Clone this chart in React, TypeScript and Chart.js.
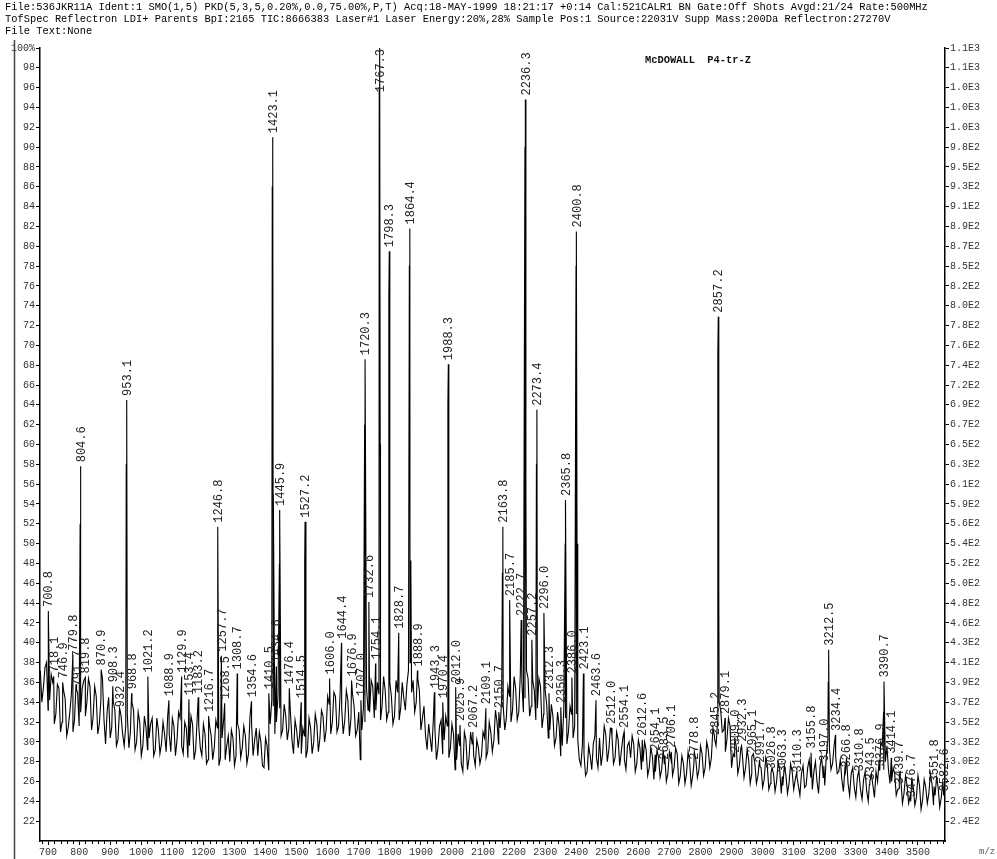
import React, { useEffect, useRef } from "react";
import { Chart, registerables } from "chart.js";

Chart.register(...registerables);

// ---------- text ----------
const headerLines = [
  "File:536JKR11A Ident:1 SMO(1,5) PKD(5,3,5,0.20%,0.0,75.00%,P,T) Acq:18-MAY-1999 18:21:17 +0:14 Cal:521CALR1 BN Gate:Off Shots Avgd:21/24 Rate:500MHz",
  "TofSpec Reflectron LDI+ Parents BpI:2165 TIC:8666383 Laser#1 Laser Energy:20%,28% Sample Pos:1 Source:22031V Supp Mass:200Da Reflectron:27270V",
  "File Text:None",
];
const sampleTitle = "McDOWALL  P4-tr-Z";
const xAxisTitle = "m/z";

// ---------- axes ----------
const xTickLabels = [
  700, 800, 900, 1000, 1100, 1200, 1300, 1400, 1500, 1600, 1700, 1800, 1900, 2000, 2100,
  2200, 2300, 2400, 2500, 2600, 2700, 2800, 2900, 3000, 3100, 3200, 3300, 3400, 3500,
];
const yTickValues = [
  100, 98, 96, 94, 92, 90, 88, 86, 84, 82, 80, 78, 76, 74, 72, 70, 68, 66, 64, 62,
  60, 58, 56, 54, 52, 50, 48, 46, 44, 42, 40, 38, 36, 34, 32, 30, 28, 26, 24, 22,
];
const rightTickLabels = [
  "1.1E3", "1.1E3", "1.0E3", "1.0E3", "1.0E3", "9.8E2", "9.5E2", "9.3E2", "9.1E2", "8.9E2",
  "8.7E2", "8.5E2", "8.2E2", "8.0E2", "7.8E2", "7.6E2", "7.4E2", "7.2E2", "6.9E2", "6.7E2",
  "6.5E2", "6.3E2", "6.1E2", "5.9E2", "5.6E2", "5.4E2", "5.2E2", "5.0E2", "4.8E2", "4.6E2",
  "4.3E2", "4.1E2", "3.9E2", "3.7E2", "3.5E2", "3.3E2", "3.0E2", "2.8E2", "2.6E2", "2.4E2",
];

// ---------- spectrum baseline (% intensity, read every 10 m/z from 675) ----------
const baselineStartMz = 675;
const baselineStepMz = 10;
const baseline = [
  37.2, 35.5, 38.0, 34.2, 36.0, 32.8, 35.4, 32.0, 34.3, 31.5,
  34.8, 32.2, 35.0, 33.0, 36.2, 34.0, 35.6, 32.5, 34.6, 31.8,
  36.4, 29.8, 34.5, 31.5, 33.2, 30.2, 32.6, 29.6, 32.8, 31.0,
  33.2, 30.0, 32.0, 29.6, 31.5, 30.4, 32.4, 29.2, 31.2, 29.8,
  30.8, 32.6, 29.0, 31.6, 30.2, 32.4, 28.8, 31.4, 29.6, 31.8,
  29.2, 31.6, 28.6, 30.8, 28.2, 30.6, 29.4, 31.4, 28.4, 32.2,
  29.6, 28.0, 30.4, 28.6, 31.2, 29.4, 30.6, 28.8, 31.8, 30.2,
  28.6, 30.0, 27.4, 29.6, 31.8, 33.6, 32.0, 33.4, 31.2, 32.6,
  31.4, 30.2, 32.2, 29.4, 28.8, 30.6, 29.2, 31.4, 30.0, 31.8,
  30.4, 32.6, 31.2, 33.8, 32.0, 34.6, 31.6, 33.4, 32.2, 34.2,
  32.4, 33.6, 31.2, 28.2, 33.4, 35.4, 33.0, 35.6, 33.2, 34.8,
  33.6, 35.2, 33.0, 34.6, 32.6, 35.0, 33.4, 34.4, 35.8, 38.0,
  36.2, 34.0, 35.2, 32.4, 30.6, 31.8, 29.0, 31.4, 29.4, 32.2,
  30.2, 31.6, 29.4, 30.8, 28.2, 29.6, 27.0, 30.2, 28.4, 29.8,
  27.6, 29.4, 28.6, 30.4, 29.0, 31.0, 30.2, 32.0, 31.4, 33.6,
  32.4, 34.6, 33.2, 35.4, 33.0, 36.0, 34.4, 36.4, 33.6, 35.2,
  33.4, 35.6, 32.8, 33.8, 31.2, 32.6, 30.4, 31.6, 29.6, 32.4,
  31.0, 32.8, 31.6, 30.2, 27.6, 28.8, 27.0, 28.6, 29.8, 28.4,
  30.4, 28.8, 30.8, 29.2, 30.6, 28.4, 30.2, 29.0, 28.2, 29.6,
  28.4, 29.8, 27.8, 29.4, 28.0, 29.2, 27.4, 28.6, 27.0, 28.4,
  27.2, 28.6, 26.8, 28.2, 27.4, 28.8, 26.6, 27.8, 26.8, 28.0,
  26.6, 28.2, 27.2, 28.8, 27.4, 29.2, 28.4, 30.6, 32.0, 33.2,
  31.2, 30.2, 31.6, 28.8, 29.6, 27.6, 28.6, 27.4, 28.2, 26.8,
  27.8, 26.6, 27.4, 26.2, 27.6, 25.8, 26.8, 26.0, 27.2, 25.6,
  26.6, 25.8, 27.0, 26.2, 25.6, 26.8, 25.4, 27.4, 26.4, 27.0,
  26.0, 27.6, 26.4, 28.6, 29.4, 27.8, 28.6, 27.0, 26.2, 27.4,
  25.8, 26.8, 25.4, 26.4, 25.2, 26.2, 25.0, 26.0, 25.6, 27.0,
  28.2, 29.6, 28.0, 27.2, 26.0, 26.8, 25.2, 26.2, 24.8, 25.6,
  24.6, 25.4, 24.4, 25.6, 24.2, 25.4, 24.8, 25.8, 24.6, 25.4,
  24.4, 25.2,
];

// ---------- in-between baseline readings (every 10 m/z from 680) ----------
const baselineMidStartMz = 680;
const baselineMid = [
  34.0, 37.5, 33.2, 36.8, 31.8, 35.8, 31.0, 35.2, 30.6, 33.0,
  31.0, 35.8, 31.6, 35.4, 32.6, 36.4, 31.2, 35.6, 30.8, 34.2,
  32.2, 33.0, 30.4, 34.0, 29.6, 33.4, 30.8, 31.6, 29.4, 34.0,
  29.2, 33.0, 28.6, 32.6, 29.2, 31.8, 28.6, 32.4, 28.8, 32.0,
  29.0, 30.8, 32.4, 28.6, 33.0, 29.6, 32.0, 28.4, 32.6, 28.2,
  32.4, 29.4, 31.8, 27.8, 31.6, 28.2, 32.2, 27.6, 30.4, 28.2,
  30.6, 31.2, 27.6, 31.8, 28.4, 31.6, 27.8, 32.6, 28.6, 31.4,
  31.0, 27.6, 30.4, 27.2, 34.2, 30.8, 34.6, 30.6, 33.8, 30.2,
  33.0, 28.8, 31.2, 30.8, 31.4, 28.4, 32.4, 28.8, 32.8, 29.0,
  33.2, 30.0, 34.6, 30.8, 35.0, 31.0, 34.8, 30.8, 35.2, 30.6,
  34.8, 30.6, 33.0, 31.2, 32.0, 33.2, 36.2, 32.4, 36.0, 32.2,
  36.6, 32.2, 36.0, 31.8, 36.2, 32.2, 36.0, 33.2, 37.2, 35.0,
  33.0, 36.4, 31.2, 33.6, 29.2, 30.4, 32.2, 28.2, 31.6, 28.8,
  32.6, 28.4, 31.8, 27.2, 30.8, 27.8, 31.0, 27.2, 31.0, 28.6,
  30.2, 27.8, 31.0, 28.4, 32.0, 29.0, 33.2, 29.8, 34.4, 31.2,
  35.6, 32.0, 36.6, 32.2, 36.8, 33.0, 37.2, 32.6, 36.2, 32.2,
  36.4, 31.4, 35.2, 30.4, 33.8, 29.6, 33.0, 28.6, 33.4, 29.8,
  33.6, 30.4, 32.8, 28.2, 29.8, 26.6, 29.6, 27.2, 30.6, 27.4,
  27.6, 31.6, 28.0, 31.4, 27.8, 31.0, 27.6, 30.4, 27.2, 30.0,
  30.6, 27.0, 30.2, 27.2, 30.0, 26.6, 29.4, 26.2, 29.2, 26.4,
  29.2, 26.0, 29.0, 26.6, 29.4, 25.8, 28.6, 25.8, 29.0, 25.6,
  29.0, 26.4, 29.6, 26.6, 30.0, 27.4, 31.4, 29.6, 34.0, 31.0,
  29.0, 32.4, 27.4, 30.4, 26.8, 29.4, 26.4, 29.2, 25.8, 28.8,
  25.8, 28.2, 25.4, 28.4, 25.2, 27.4, 25.0, 28.0, 24.8, 27.6,
  24.8, 27.8, 25.2, 27.0, 24.6, 27.6, 25.6, 28.2, 25.2, 28.0,
  24.8, 28.4, 25.6, 30.2, 27.2, 29.6, 26.8, 28.2, 25.0, 28.4,
  24.6, 27.4, 24.4, 27.2, 24.2, 27.0, 24.0, 26.8, 24.4, 26.0,
  30.0, 27.2, 29.6, 25.8, 27.4, 24.6, 26.8, 23.8, 26.6, 23.8,
  26.4, 23.6, 26.6, 23.2, 26.2, 23.8, 26.8, 23.6, 26.4, 23.4,
  26.0,
];

// ---------- labelled peaks ----------
const peakMz = [
  700.8, 718.1, 746.9, 779.8, 791.7, 804.6, 819.8, 870.9, 908.3, 932.4,
  953.1, 968.8, 1021.2, 1088.9, 1129.9, 1153.4, 1183.2, 1216.7, 1246.8, 1257.7,
  1268.5, 1308.7, 1354.6, 1410.5, 1423.1, 1434.6, 1445.9, 1476.4, 1514.5, 1527.2,
  1606.0, 1644.4, 1676.9, 1707.0, 1720.3, 1732.6, 1754.1, 1767.3, 1798.3, 1828.7,
  1864.4, 1888.9, 1943.3, 1970.4, 1988.3, 2012.0, 2025.9, 2067.2, 2109.1, 2150.7,
  2163.8, 2185.7, 2222.7, 2236.3, 2257.2, 2273.4, 2296.0, 2312.3, 2350.3, 2365.8,
  2386.0, 2400.8, 2423.1, 2463.6, 2512.0, 2554.1, 2612.6, 2654.1, 2683.5, 2706.1,
  2778.8, 2845.2, 2857.2, 2879.1, 2909.0, 2932.3, 2965.1, 2991.7, 3026.8, 3063.3,
  3110.3, 3155.8, 3197.0, 3212.5, 3234.4, 3266.8, 3310.8, 3343.5, 3376.9, 3390.7,
  3414.1, 3439.7, 3476.7, 3551.8, 3582.6,
];
const peakIntensity = [
  43.2, 36.6, 36.0, 38.8, 35.2, 57.8, 36.5, 37.3, 35.6, 33.1,
  64.5, 34.9, 36.6, 34.2, 36.6, 34.3, 34.5, 32.6, 51.7, 38.7,
  33.9, 36.9, 34.1, 34.9, 91.0, 37.6, 53.4, 35.4, 34.0, 52.2,
  36.4, 40.0, 36.2, 34.2, 68.6, 44.1, 37.9, 100.0, 79.5, 41.0,
  81.8, 37.2, 35.0, 34.0, 68.1, 35.5, 31.7, 31.0, 33.4, 33.0,
  51.7, 44.3, 42.3, 94.8, 40.3, 63.5, 43.0, 34.9, 33.5, 54.4,
  36.5, 81.5, 36.9, 34.2, 31.4, 31.0, 30.2, 28.7, 27.8, 29.0,
  27.8, 30.3, 72.9, 32.4, 28.5, 29.6, 28.5, 27.5, 26.8, 26.5,
  26.5, 28.9, 27.6, 39.3, 30.7, 27.0, 26.6, 25.7, 27.1, 36.1,
  28.4, 25.3, 24.0, 25.5, 24.6,
];

// ---------- unlabelled shoulders beside the big peaks ----------
const shoulderMz = [
  803.2, 951.6, 1245.4, 1421.6, 1425.0, 1444.6, 1526.0, 1718.9, 1765.9, 1769.0,
  1796.9, 1862.9, 1867.6, 1986.9, 2162.4, 2234.9, 2238.0, 2271.9, 2364.4, 2399.4,
  2402.6, 2855.8, 2858.9, 3211.1, 3389.3,
];
const shoulderIntensity = [
  52.0, 58.0, 46.0, 86.0, 55.0, 48.0, 48.0, 62.0, 96.0, 60.0,
  75.0, 78.0, 48.3, 64.0, 47.0, 90.0, 55.0, 58.0, 50.0, 78.0,
  50.0, 69.0, 45.0, 36.0, 33.0,
];

const MONO = '"Liberation Mono", "DejaVu Sans Mono", monospace';

const overlayPlugin = {
  id: "spectrumOverlay",
  afterDraw(chart: any) {
    const { ctx, chartArea, scales } = chart;
    const xs = scales.x;
    const ys = scales.y;
    ctx.save();
    // minor ticks on the m/z axis
    ctx.strokeStyle = "#000";
    ctx.lineWidth = 1;
    for (let v = 680; v <= 3580; v += 20) {
      if (v % 100 === 0) continue;
      const px = Math.round(xs.getPixelForValue(v)) + 0.5;
      ctx.beginPath();
      ctx.moveTo(px, chartArea.bottom);
      ctx.lineTo(px, chartArea.bottom + 3);
      ctx.stroke();
    }
    // left frame line of the scanned page
    ctx.strokeStyle = "#444";
    ctx.lineWidth = 1.5;
    ctx.beginPath();
    ctx.moveTo(14.5, 40);
    ctx.lineTo(14.5, 859);
    ctx.stroke();

    // peak labels
    ctx.font = `12px ${MONO}`;
    ctx.fillStyle = "#222";
    ctx.textAlign = "left";
    ctx.textBaseline = "middle";
    peakMz.forEach((m, i) => {
      const label = m.toFixed(1);
      const w = ctx.measureText(label).width;
      const px = xs.getPixelForValue(m);
      const py = ys.getPixelForValue(peakIntensity[i]);
      const start = Math.max(py - 4, chartArea.top + w + 1);
      ctx.save();
      ctx.translate(px + 1, start);
      ctx.rotate(-Math.PI / 2);
      ctx.fillText(label, 0, 0);
      ctx.restore();
    });
    ctx.restore();
  },
};

export default function App() {
  const canvasRef = useRef<HTMLCanvasElement | null>(null);

  useEffect(() => {
    document.body.style.margin = "0";
    const canvas = canvasRef.current;
    if (!canvas) return;

    const points: { x: number; y: number }[] = [];
    baseline.forEach((v, i) => points.push({ x: baselineStartMz + i * baselineStepMz, y: v }));
    baselineMid.forEach((v, i) => points.push({ x: baselineMidStartMz + i * baselineStepMz, y: v }));
    peakMz.forEach((m, i) => points.push({ x: m, y: peakIntensity[i] }));
    shoulderMz.forEach((m, i) => points.push({ x: m, y: shoulderIntensity[i] }));
    points.sort((a, b) => a.x - b.x);

    const tickFont = { family: MONO, size: 10 };

    const chart = new Chart(canvas, {
      type: "line",
      data: {
        datasets: [
          {
            data: points,
            borderColor: "#000",
            borderWidth: 1.1,
            pointRadius: 0,
            tension: 0,
            fill: false,
            yAxisID: "y",
          },
        ],
      },
      options: {
        responsive: false,
        animation: false,
        devicePixelRatio: 1,
        layout: { padding: { top: 48, left: 0, right: 0, bottom: 0 } },
        plugins: {
          legend: { display: false },
          tooltip: { enabled: false },
          title: { display: false },
        },
        scales: {
          x: {
            type: "linear",
            min: 674,
            max: 3587,
            afterBuildTicks: (s: any) => {
              s.ticks = xTickLabels.map((v) => ({ value: v }));
            },
            afterFit: (s: any) => {
              s.height = 18;
            },
            grid: { drawOnChartArea: false, drawTicks: true, tickLength: 4, tickColor: "#000" },
            border: { display: true, color: "#000", width: 1.5 },
            ticks: {
              autoSkip: false,
              maxRotation: 0,
              padding: 1,
              color: "#333",
              font: tickFont,
              callback: (v: any) => String(v),
            },
          },
          y: {
            type: "linear",
            position: "left",
            min: 20,
            max: 100,
            afterBuildTicks: (s: any) => {
              s.ticks = [...yTickValues].reverse().map((v) => ({ value: v }));
            },
            afterFit: (s: any) => {
              s.width = 40;
            },
            grid: { drawOnChartArea: false, drawTicks: true, tickLength: 4, tickColor: "#000" },
            border: { display: true, color: "#000", width: 1.5 },
            ticks: {
              autoSkip: false,
              padding: 1,
              color: "#333",
              font: tickFont,
              callback: (v: any) => (v === 100 ? "100%" : String(v)),
            },
          },
          y2: {
            type: "linear",
            position: "right",
            min: 20,
            max: 100,
            afterBuildTicks: (s: any) => {
              s.ticks = [...yTickValues].reverse().map((v) => ({ value: v }));
            },
            afterFit: (s: any) => {
              s.width = 52;
            },
            grid: { drawOnChartArea: false, drawTicks: true, tickLength: 4, tickColor: "#000" },
            border: { display: true, color: "#000", width: 1.5 },
            ticks: {
              autoSkip: false,
              padding: 1,
              color: "#333",
              font: tickFont,
              callback: (v: any) => {
                const idx = yTickValues.indexOf(v);
                return idx >= 0 ? rightTickLabels[idx] : "";
              },
            },
          },
        },
      },
      plugins: [overlayPlugin],
    } as any);

    return () => chart.destroy();
  }, []);

  return (
    <div
      style={{
        position: "fixed",
        left: 0,
        top: 0,
        width: 997,
        height: 859,
        background: "#fff",
        overflow: "hidden",
      }}
    >
      <canvas ref={canvasRef} width={997} height={859} style={{ position: "absolute", left: 0, top: 0 }} />
      <div
        style={{
          position: "absolute",
          left: 5,
          top: 1,
          fontFamily: MONO,
          fontSize: "10.4px",
          lineHeight: "12px",
          whiteSpace: "pre",
          color: "#000",
        }}
      >
        {headerLines.map((l, i) => (
          <div key={i}>{l}</div>
        ))}
      </div>
      <div
        style={{
          position: "absolute",
          left: 645,
          top: 54,
          fontFamily: MONO,
          fontSize: "10.4px",
          whiteSpace: "pre",
          color: "#111",
          fontWeight: "bold",
        }}
      >
        {sampleTitle}
      </div>
      <div
        style={{
          position: "absolute",
          left: 979,
          top: 847,
          fontFamily: MONO,
          fontSize: "9px",
          color: "#555",
        }}
      >
        {xAxisTitle}
      </div>
    </div>
  );
}
